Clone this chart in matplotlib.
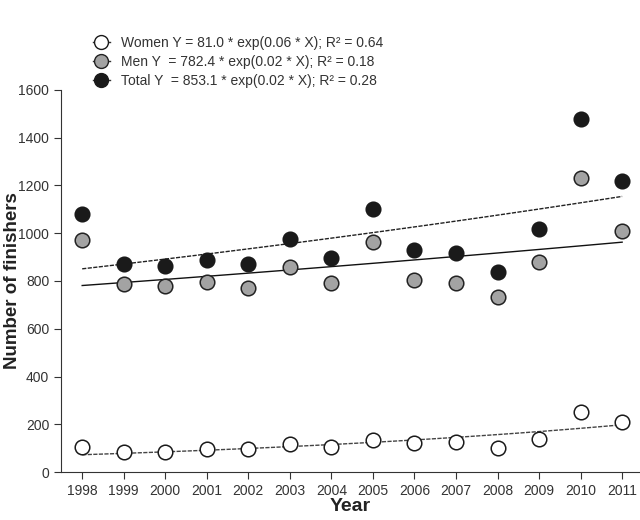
import numpy as np
import matplotlib
matplotlib.use("Agg")
import matplotlib.pyplot as plt
from matplotlib.lines import Line2D

plt.rcParams['font.family'] = ['Liberation Sans', 'DejaVu Sans']

years = [1998, 1999, 2000, 2001, 2002, 2003, 2004, 2005, 2006, 2007, 2008, 2009, 2010, 2011]
women = [105, 82, 82, 95, 98, 117, 105, 135, 122, 126, 100, 140, 250, 208]
men = [970, 788, 780, 795, 772, 858, 790, 965, 806, 792, 735, 878, 1230, 1008]
total = [1080, 870, 862, 890, 870, 975, 895, 1100, 928, 918, 838, 1018, 1480, 1218]

labels = ["Women Y = 81.0 * exp(0.06 * X); R\u00b2 = 0.64",
          "Men Y  = 782.4 * exp(0.02 * X); R\u00b2 = 0.18",
          "Total Y  = 853.1 * exp(0.02 * X); R\u00b2 = 0.28"]


def expfit(x, y):
    # least squares fit of y = a * exp(b * x) (Gauss-Newton from log-linear start)
    x = np.asarray(x, float); y = np.asarray(y, float)
    b, lna = np.polyfit(x, np.log(y), 1)
    a = np.exp(lna)
    for _ in range(30):
        f = a * np.exp(b * x)
        J = np.column_stack([np.exp(b * x), a * x * np.exp(b * x)])
        d = np.linalg.lstsq(J, y - f, rcond=None)[0]
        a += d[0]; b += d[1]
    return a, b


fig = plt.figure(figsize=(6.4, 5.2), dpi=100)
ax = fig.add_axes([61/640, 1-472/520, 579/640, 382/520])

xs = np.array(years, float)
X = xs - years[0]
xx = np.linspace(0, X[-1], 100)
fit_styles = [(women, (0, (3, 1)), '#444444'), (men, '-', '#111111'), (total, (0, (3, 1)), '#222222')]
for data, ls, col in fit_styles:
    a, b = expfit(X, data)
    ax.plot(xx + years[0], a * np.exp(b * xx), ls=ls, color=col, lw=1.0, zorder=2)

ms = 10.5
ax.plot(years, women, 'o', ms=ms, mfc='white', mec='#1a1a1a', mew=1.1, ls='none', zorder=3)
ax.plot(years, men, 'o', ms=ms, mfc='#a3a3a3', mec='#222222', mew=1.1, ls='none', zorder=3)
ax.plot(years, total, 'o', ms=ms, mfc='#1a1a1a', mec='#1a1a1a', mew=1.1, ls='none', zorder=4)

ax.set_xlim(1997.49, 2011.43)
ax.set_ylim(0, 1600)
ax.set_xticks(years)
ax.set_yticks(range(0, 1601, 200))
ax.spines['top'].set_visible(False)
ax.spines['right'].set_visible(False)
for s in ['left', 'bottom']:
    ax.spines[s].set_color('#333333')
ax.tick_params(direction='out', length=5, color='#333333', labelsize=10, labelcolor='#333333')
ax.set_xlabel('Year', fontsize=14, fontweight='bold', color='#222222', labelpad=0)
ax.set_ylabel('Number of finishers', fontsize=13.5, fontweight='bold', color='#222222', va='baseline')
ax.yaxis.set_label_coords((17 - 61) / 579, 0.5)

handles = [
    Line2D([], [], color='#333333', lw=1, marker='o', ms=10, mfc='white', mec='#1a1a1a'),
    Line2D([], [], color='#333333', lw=1, marker='o', ms=10, mfc='#a3a3a3', mec='#222222'),
    Line2D([], [], color='#333333', lw=1, marker='o', ms=10, mfc='#1a1a1a', mec='#1a1a1a'),
]
fig.legend(handles, labels, loc='upper left', bbox_to_anchor=(86/640, 1-29/520), frameon=False,
           fontsize=10, handlelength=1.2, handletextpad=0.8, labelspacing=0.35, borderpad=0,
           labelcolor='#333333')

fig.savefig('out.png', dpi=100)
